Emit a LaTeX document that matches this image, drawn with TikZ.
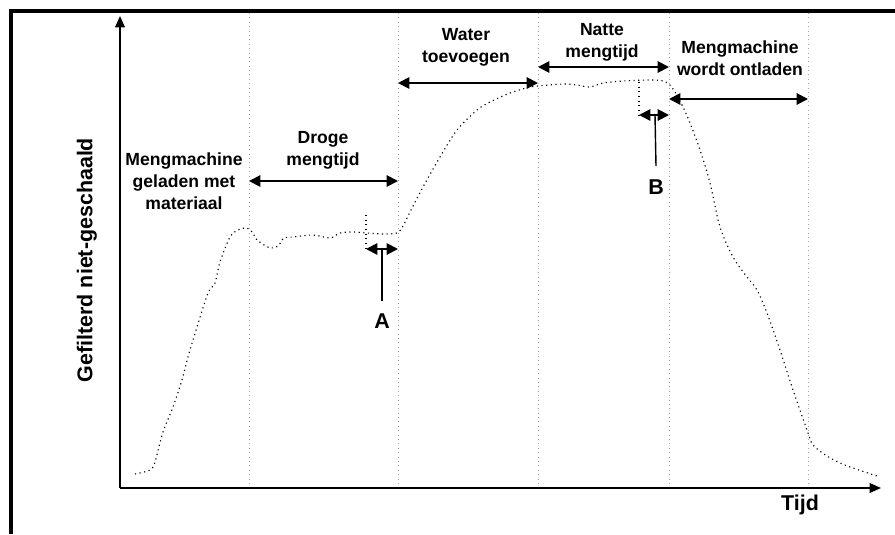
\documentclass[tikz,border=0pt]{standalone}
\usepackage{fontspec}
\setmainfont{Liberation Sans}
\usetikzlibrary{arrows.meta}

\begin{document}
\begin{tikzpicture}[x=0.02cm,y=-0.02cm,
	kop/.style={{Triangle[length=6.5pt,width=6.5pt]}-{Triangle[length=6.5pt,width=6.5pt]},line width=1.1pt},
	as/.style={-{Triangle[length=6.5pt,width=5.5pt]},line width=1.1pt},
	fase/.style={gray!70,dotted,line width=0.5pt},
	tekst/.style={font=\fontsize{10}{12.5}\selectfont\bfseries,align=center,inner sep=0pt},
	groot/.style={font=\fontsize{12.2}{14}\selectfont\bfseries,inner sep=0pt}]
	\useasboundingbox (0,0) rectangle (895,534);
	% kader
	\draw[line width=2pt] (11,534) -- (11,11) -- (895,11);
	% fasegrenzen
	\foreach \x/\n in {249/1,398/2,538/3,669/4,808/5}{
		\coordinate (b\n) at (\x,13);
		\coordinate (o\n) at (\x,488);
		\draw[fase] (b\n) -- (o\n);
		}
	% assen
	\coordinate (O) at (120,488);
	\coordinate (ymax) at (120,16);
	\coordinate (xmax) at (881,488);
	\draw[as] (O) -- (ymax);
	\draw[as] (O) -- (xmax);
	\node[groot,rotate=90] (ylabel) at (87,260) {Gefilterd niet-geschaald};
	\node[groot] (tijd) at (800,505) {Tijd};
	% meetcurve
	\draw[dotted,line width=0.65pt] plot[smooth,tension=0.5] coordinates {(135,474) (150,470) (155,462) (163,432) (173,407) (182,380) (188,357) (197,327) (208,293) (215,283) (220,262) (230,237) (238,230) (247,228) (253,233) (257,240) (270,248) (278,246) (284,238) (293,237) (313,235) (330,238) (340,233) (353,232) (367,233) (383,234) (397,233) (403,226) (410,212) (423,187) (440,157) (457,130) (477,110) (490,102) (510,93) (530,87) (538,86) (563,84) (577,85) (590,87) (603,83) (623,81) (650,80) (664,81) (669,84) (675,92) (683,107) (690,123) (700,150) (710,183) (720,227) (733,257) (747,277) (757,290) (767,313) (780,350) (793,390) (807,430) (813,445) (827,456) (840,463) (853,468) (877,476)};
	% fasen
	\node[tekst] (laden) at (184,181) {Mengmachine\\geladen met\\materiaal};
	\coordinate (d1) at (249,181);
	\coordinate (d2) at (398,181);
	\draw[kop] (d1) -- (d2);
	\node[tekst] (droog) at (323,150) {Droge\\mengtijd};
	\coordinate (w1) at (398,83);
	\coordinate (w2) at (538,83);
	\draw[kop] (w1) -- (w2);
	\node[tekst] (water) at (466,47) {Water\\toevoegen};
	\coordinate (n1) at (538,67);
	\coordinate (n2) at (669,67);
	\draw[kop] (n1) -- (n2);
	\node[tekst] (nat) at (602,42) {Natte\\mengtijd};
	\coordinate (l1) at (669,99);
	\coordinate (l2) at (808,99);
	\draw[kop] (l1) -- (l2);
	\node[tekst] (lossen) at (740,58) {Mengmachine\\wordt ontladen};
	% A
	\coordinate (a0) at (366,215);
	\coordinate (a1) at (366,249);
	\coordinate (a2) at (398,249);
	\coordinate (am) at (382,249);
	\draw[dotted,line width=0.65pt] (a0) -- (a1);
	\draw[kop] (a1) -- (a2);
	\node[groot] (A) at (382,321) {A};
	\draw[line width=0.8pt] (am) -- ([yshift=7pt]A.north);
	% B
	\coordinate (p0) at (639,82);
	\coordinate (p1) at (639,115);
	\coordinate (p2) at (669,115);
	\coordinate (pm) at (655,115);
	\draw[dotted,line width=0.65pt] (p0) -- (p1);
	\draw[kop] (p1) -- (p2);
	\node[groot] (B) at (656,187) {B};
	\draw[line width=0.8pt] (pm) -- ([yshift=7.5pt]B.north);
\end{tikzpicture}
\end{document}
